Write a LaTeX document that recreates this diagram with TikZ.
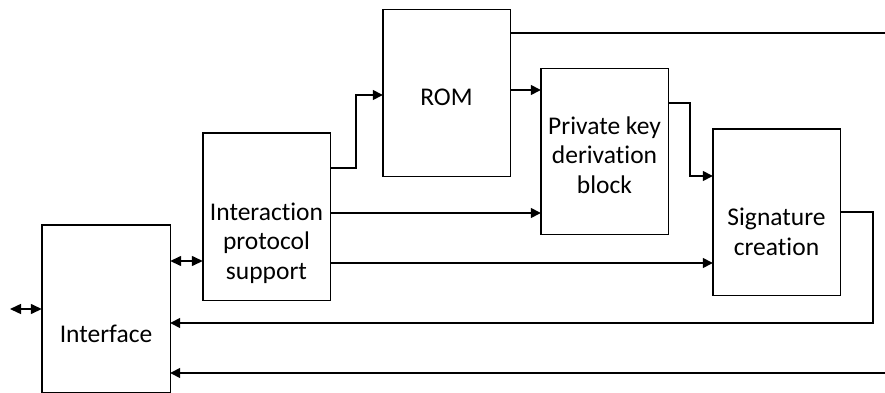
\documentclass[tikz,border=0pt]{standalone}
\usepackage{fontspec}
\setmainfont{Carlito}[Ligatures=NoCommon]
\usetikzlibrary{arrows.meta,calc}
\begin{document}
\begin{tikzpicture}[x=1pt,y=-1pt,
  blk/.style={draw=black,line width=1.4pt,fill=white,inner sep=0pt},
  lbl/.style={font=\fontsize{25.5}{29.5}\selectfont,align=center,inner sep=0pt},
  wire/.style={draw=black,line width=1.4pt},
  arr/.style={wire,-{Triangle[length=10pt,width=10pt]}},
  darr/.style={wire,{Triangle[length=11pt,width=10pt]}-{Triangle[length=11pt,width=10pt]}}]
\useasboundingbox (0,0) rectangle (885,393);
% boxes
\node[inner sep=0pt,minimum width=128pt,minimum height=167pt] (if) at (106,308.5) {};
\node[inner sep=0pt,minimum width=127pt,minimum height=167pt] (ip) at (266.5,216.5) {};
\node[inner sep=0pt,minimum width=127pt,minimum height=166pt] (rom) at (446.5,93) {};
\node[inner sep=0pt,minimum width=127pt,minimum height=165pt] (pk) at (604.5,151.5) {};
\node[inner sep=0pt,minimum width=127pt,minimum height=166pt] (sig) at (776.5,212) {};
\draw[blk] (if.north west) rectangle (if.south east);
\draw[blk] (ip.north west) rectangle (ip.south east);
\draw[blk] (rom.north west) rectangle (rom.south east);
\draw[blk] (pk.north west) rectangle (pk.south east);
\draw[blk] (sig.north west) rectangle (sig.south east);
% labels
\node[lbl] (tif) at (106,334) {Interface};
\node[lbl] (tip) at (266.5,243) {Interaction\\protocol\\support};
\node[lbl] (trom) at (446.5,97) {ROM};
\node[lbl] (tpk) at (604.5,155) {Private key\\derivation\\block};
\node[lbl] (tsig) at (776.5,232) {Signature\\creation};
% free-end coordinates
\coordinate (lft) at (10,309);
\coordinate (re1) at (885,33);
\coordinate (re2) at (885,373);
% connectors
\draw[darr] (lft) -- (lft -| if.west);
\draw[darr] (if.east |- 0,261) -- (ip.west |- 0,261);
\draw[arr] (ip.east |- 0,168) -- (356,168) -- (356,95) -- (rom.west |- 0,95);
\draw[arr] (rom.east |- 0,90) -- (pk.west |- 0,90);
\draw[arr] (ip.east |- 0,213) -- (pk.west |- 0,213);
\draw[arr] (pk.east |- 0,103) -- (690,103) -- (690,176) -- (sig.west |- 0,176);
\draw[arr] (ip.east |- 0,263) -- (sig.west |- 0,263);
\draw[arr] (sig.east |- 0,212) -- (873,212) -- (873,323) -- (if.east |- 0,323);
\draw[arr] (re2) -- (if.east |- re2);
\draw[wire] (rom.east |- re1) -- (re1);
\end{tikzpicture}
\end{document}
